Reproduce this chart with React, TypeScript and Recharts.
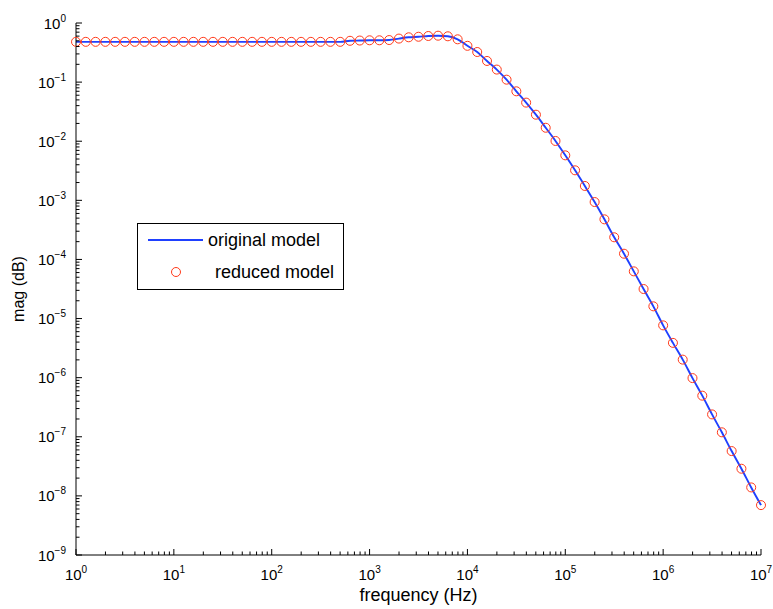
import React from 'react';
import { ComposedChart, Line, Scatter, XAxis, YAxis, Legend, Label } from 'recharts';

const frequency = [
  1, 1.259, 1.585, 1.995, 2.512, 3.162, 3.981, 5.012, 6.31, 7.943,
  10, 12.59, 15.85, 19.95, 25.12, 31.62, 39.81, 50.12, 63.1, 79.43,
  100, 125.9, 158.5, 199.5, 251.2, 316.2, 398.1, 501.2, 631, 794.3,
  1000, 1259, 1585, 1995, 2512, 3162, 3981, 5012, 6310, 7943,
  10000, 12590, 15850, 19950, 25120, 31620, 39810, 50120, 63100, 79430,
  100000, 125900, 158500, 199500, 251200, 316200, 398100, 501200, 631000, 794300,
  1000000, 1259000, 1585000, 1995000, 2512000, 3162000, 3981000, 5012000, 6310000, 7943000,
  10000000,
];

const originalMag = [
  0.48, 0.48, 0.48, 0.48, 0.48, 0.48, 0.48, 0.48, 0.48, 0.48,
  0.48, 0.48, 0.48, 0.48, 0.48, 0.48, 0.48, 0.48, 0.48, 0.48,
  0.48, 0.48, 0.48, 0.48, 0.48, 0.48, 0.48, 0.48, 0.5, 0.505,
  0.51, 0.51, 0.515, 0.545, 0.573, 0.585, 0.603, 0.61, 0.596, 0.53,
  0.411, 0.323, 0.228, 0.163, 0.11, 0.0699, 0.045, 0.0281, 0.0169, 0.0101,
  0.00577, 0.00322, 0.00175, 9.36e-4, 4.77e-4, 2.37e-4, 1.25e-4, 6.29e-5, 3.16e-5, 1.61e-5,
  7.67e-6, 3.88e-6, 2.02e-6, 9.84e-7, 4.96e-7, 2.39e-7, 1.19e-7, 5.73e-8, 2.88e-8, 1.39e-8,
  6.98e-9,
];

const reducedMag = [
  0.48, 0.48, 0.48, 0.48, 0.48, 0.48, 0.48, 0.48, 0.48, 0.48,
  0.48, 0.48, 0.48, 0.48, 0.48, 0.48, 0.48, 0.48, 0.48, 0.48,
  0.48, 0.48, 0.48, 0.48, 0.48, 0.48, 0.48, 0.48, 0.5, 0.505,
  0.51, 0.51, 0.515, 0.545, 0.573, 0.585, 0.603, 0.61, 0.596, 0.53,
  0.411, 0.323, 0.228, 0.163, 0.11, 0.0699, 0.045, 0.0281, 0.0169, 0.0101,
  0.00577, 0.00322, 0.00175, 9.36e-4, 4.77e-4, 2.37e-4, 1.25e-4, 6.29e-5, 3.16e-5, 1.61e-5,
  7.67e-6, 3.88e-6, 2.02e-6, 9.84e-7, 4.96e-7, 2.39e-7, 1.19e-7, 5.73e-8, 2.88e-8, 1.39e-8,
  6.98e-9,
];

const xMajorTicks = [1, 10, 100, 1000, 10000, 100000, 1000000, 10000000];
const yMajorTicks = [1e-9, 1e-8, 1e-7, 1e-6, 1e-5, 1e-4, 1e-3, 1e-2, 1e-1, 1];
const minorMultipliers = [2, 3, 4, 5, 6, 7, 8, 9];

const xLabel = 'frequency (Hz)';
const yLabel = 'mag (dB)';
const seriesNames = ['original model', 'reduced model'];

const FONT = '"Liberation Sans", Arial, Helvetica, sans-serif';
const BLUE = '#1f40ff';
const RED = '#ff3a1a';

const withMinor = (majors: number[]) => {
  const out: number[] = [];
  majors.forEach((m, i) => {
    out.push(m);
    if (i < majors.length - 1) minorMultipliers.forEach((k) => out.push(m * k));
  });
  return out;
};

const xTicks = withMinor(xMajorTicks);
const yTicks = withMinor(yMajorTicks);

const data = frequency.map((f, i) => ({ f, orig: originalMag[i], red: reducedMag[i] }));

const isMajor = (v: number) => {
  const l = Math.log10(v);
  return Math.abs(l - Math.round(l)) < 1e-6;
};
const expOf = (v: number) => {
  const e = Math.round(Math.log10(v));
  return e < 0 ? '\u2212' + Math.abs(e) : String(e);
};

const MAJ = 6;
const MIN = 3.5;

const XTickBottom = (props: any) => {
  const { x, y, payload } = props;
  const major = isMajor(payload.value);
  return (
    <g>
      <line x1={x} x2={x} y1={y} y2={y - (major ? MAJ : MIN)} stroke="#000" strokeWidth={1} />
      {major && (
        <text x={x} y={y + 25} textAnchor="middle" fontSize={15} fontFamily={FONT} fill="#000">
          10
          <tspan dy={-7} fontSize={10}>{expOf(payload.value)}</tspan>
        </text>
      )}
    </g>
  );
};

const XTickTop = (props: any) => {
  const { x, y, payload } = props;
  const major = isMajor(payload.value);
  return <line x1={x} x2={x} y1={y} y2={y + (major ? MAJ : MIN)} stroke="#000" strokeWidth={1} />;
};

const YTickLeft = (props: any) => {
  const { x, y, payload } = props;
  const major = isMajor(payload.value);
  return (
    <g>
      <line x1={x} x2={x + (major ? MAJ : MIN)} y1={y} y2={y} stroke="#000" strokeWidth={1} />
      {major && (
        <text x={x - 10} y={y + 5.5} textAnchor="end" fontSize={15} fontFamily={FONT} fill="#000">
          10
          <tspan dy={-7} fontSize={10}>{expOf(payload.value)}</tspan>
        </text>
      )}
    </g>
  );
};

const YTickRight = (props: any) => {
  const { x, y, payload } = props;
  const major = isMajor(payload.value);
  return <line x1={x} x2={x - (major ? MAJ : MIN)} y1={y} y2={y} stroke="#000" strokeWidth={1} />;
};

const RingShape = (props: any) => {
  const { cx, cy } = props;
  if (cx == null || cy == null) return null;
  return <circle cx={cx} cy={cy} r={4.5} fill="none" stroke={RED} strokeWidth={1} />;
};

const renderLegend = () => (
  <div
    style={{
      width: 205,
      height: 65,
      border: '1px solid #000',
      background: '#fff',
      position: 'relative',
      boxSizing: 'content-box',
    }}
  >
    <svg width={205} height={65} style={{ position: 'absolute', left: 0, top: 0 }}>
      <line x1={10} x2={65} y1={16} y2={16} stroke={BLUE} strokeWidth={2} />
      <text x={70} y={22} fontSize={18} fontFamily={FONT} fill="#000">
        {seriesNames[0]}
      </text>
      <circle cx={38} cy={48} r={4.5} fill="none" stroke={RED} strokeWidth={1} />
      <text x={77} y={54} fontSize={18} fontFamily={FONT} fill="#000">
        {seriesNames[1]}
      </text>
    </svg>
  </div>
);

export default function App() {
  return (
    <div style={{ position: 'absolute', left: 0, top: 0, width: 773, height: 609, background: '#fff' }}>
      <ComposedChart
        width={773}
        height={609}
        data={data}
        margin={{ top: 23, right: 12, bottom: 24, left: 16 }}
      >
        <XAxis
          xAxisId={0}
          dataKey="f"
          type="number"
          scale="log"
          domain={[1, 10000000]}
          ticks={xTicks}
          interval={0}
          tickSize={0}
          tickMargin={0}
          tick={<XTickBottom />}
          axisLine={{ stroke: '#000', strokeWidth: 1 }}
          tickLine={false}
          height={30}
        >
          <Label
            value={xLabel}
            position="bottom"
            offset={3}
            style={{ fontSize: 18, fontFamily: FONT, fill: '#000' }}
          />
        </XAxis>
        <XAxis
          xAxisId="top"
          orientation="top"
          type="number"
          scale="log"
          domain={[1, 10000000]}
          allowDataOverflow
          ticks={xTicks}
          interval={0}
          tickSize={0}
          tickMargin={0}
          tick={<XTickTop />}
          axisLine={{ stroke: '#000', strokeWidth: 1 }}
          tickLine={false}
          height={0}
        />
        <YAxis
          yAxisId={0}
          type="number"
          scale="log"
          domain={[1e-9, 1]}
          ticks={yTicks}
          interval={0}
          tickSize={0}
          tickMargin={0}
          tick={<YTickLeft />}
          axisLine={{ stroke: '#000', strokeWidth: 1 }}
          tickLine={false}
          width={60}
        >
          <Label
            value={yLabel}
            angle={-90}
            position="insideLeft"
            offset={2}
            style={{ fontSize: 16, fontFamily: FONT, fill: '#000', textAnchor: 'middle' }}
          />
        </YAxis>
        <YAxis
          yAxisId="right"
          orientation="right"
          type="number"
          scale="log"
          domain={[1e-9, 1]}
          allowDataOverflow
          ticks={yTicks}
          interval={0}
          tickSize={0}
          tickMargin={0}
          tick={<YTickRight />}
          axisLine={{ stroke: '#000', strokeWidth: 1 }}
          tickLine={false}
          width={0}
        />
        <Legend
          layout="horizontal"
          verticalAlign="middle"
          align="center"
          content={renderLegend}
          wrapperStyle={{ left: 137, top: 223, width: 207, height: 67 }}
        />
        <Line
          name={seriesNames[0]}
          dataKey="orig"
          type="monotone"
          stroke={BLUE}
          strokeWidth={1.9}
          dot={false}
          activeDot={false}
          isAnimationActive={false}
        />
        <Scatter
          name={seriesNames[1]}
          dataKey="red"
          shape={<RingShape />}
          isAnimationActive={false}
        />
      </ComposedChart>
    </div>
  );
}
